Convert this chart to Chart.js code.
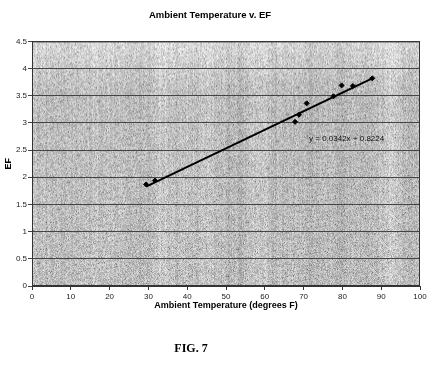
<!DOCTYPE html>
<html>
<head>
<meta charset="utf-8">
<script src="https://cdn.jsdelivr.net/npm/chart.js@4.4.1/dist/chart.umd.min.js"></script>
<style>
  html, body { margin: 0; padding: 0; background: #fff; }
  #wrap { width: 433px; height: 371px; position: relative; }
</style>
</head>
<body>
<div id="wrap"><canvas id="efchart"></canvas></div>
<script>
//Data
const tempF = [29.4, 31.7, 67.8, 68.8, 70.8, 77.7, 79.8, 82.7, 87.7];
const efValues = [1.87, 1.94, 3.02, 3.15, 3.36, 3.49, 3.69, 3.68, 3.82];
//Trend line end points, as drawn
const trendX = [29.4, 87.7];
const trendY = [1.83, 3.82];
const trendLabel = 'y = 0.0342x + 0.8224';
const labelAt = [71.4, 2.70];

const font = 'Liberation Sans, Arial, sans-serif';

//scanned-paper look for the plot area (seeded, so it's the same every run)
let seed = 7;
function rnd() {
    seed = (seed * 1103515245 + 12345) % 2147483648;
    return seed / 2147483648;
}
let texture = null;
function makeTexture(w, h) {
    const c = document.createElement('canvas');
    c.width = w; c.height = h;
    const g = c.getContext('2d');
    const img = g.createImageData(w, h);
    const cols = [];
    let drift = 0;
    for (let x = 0; x < w; x++) {
        drift = drift * 0.9 + (rnd() - 0.5) * 8;
        cols.push(drift + (rnd() - 0.5) * 14);
    }
    for (let y = 0; y < h; y++) {
        const topFade = Math.max(0, 25 * (1 - y / (h * 0.2)));
        for (let x = 0; x < w; x++) {
            let v = 192 + topFade + cols[x] + (rnd() - 0.5) * 60;
            if (rnd() < 0.05) v -= 45;
            v = Math.max(90, Math.min(245, v));
            const i = (y * w + x) * 4;
            img.data[i] = img.data[i + 1] = img.data[i + 2] = v;
            img.data[i + 3] = 255;
        }
    }
    g.putImageData(img, 0, 0);
    return c;
}

const paperPlugin = {
    id: 'paper',
    beforeDraw(chart) {
        const a = chart.chartArea;
        const ctx = chart.ctx;
        if (!texture) texture = makeTexture(Math.round(a.width), Math.round(a.height));
        ctx.save();
        ctx.drawImage(texture, a.left, a.top, a.width, a.height);
        ctx.restore();
    },
    afterDraw(chart) {
        const a = chart.chartArea;
        const ctx = chart.ctx;
        ctx.save();
        ctx.strokeStyle = '#333';
        ctx.lineWidth = 1;
        ctx.strokeRect(a.left + 0.5, a.top + 0.5, a.width - 1, a.height - 1);
        //trend line equation
        ctx.fillStyle = '#111';
        ctx.font = '8px ' + font;
        ctx.textBaseline = 'middle';
        ctx.fillText(trendLabel, chart.scales.x.getPixelForValue(labelAt[0]), chart.scales.y.getPixelForValue(labelAt[1]));
        //figure caption
        ctx.fillStyle = '#000';
        ctx.font = 'bold 12px Liberation Serif, Times New Roman, serif';
        ctx.textAlign = 'center';
        ctx.fillText('FIG. 7', 191, 349);
        ctx.restore();
    }
};

const efChart = new Chart(
    document.getElementById('efchart'),
    {
        type: 'scatter',
        data: {
            datasets: [{
                label: 'EF',
                data: tempF.map((t, i) => ({ x: t, y: efValues[i] })),
                backgroundColor: '#000',
                borderColor: '#000',
                pointStyle: 'rectRot',
                pointRadius: 2.5,
                order: 1
            }, {
                type: 'line',
                label: 'Trend',
                data: trendX.map((t, i) => ({ x: t, y: trendY[i] })),
                borderColor: '#000',
                borderWidth: 2,
                pointRadius: 0,
                fill: false,
                order: 2
            }]
        },
        options: {
            responsive: true,
            maintainAspectRatio: false,
            animation: false,
            layout: { padding: { left: 0, right: 13, top: 0, bottom: 50 } },
            plugins: {
                legend: { display: false },
                tooltip: { enabled: false },
                title: {
                    display: true,
                    text: 'Ambient Temperature v. EF',
                    color: '#000',
                    font: { family: font, size: 9.5, weight: 'bold' },
                    padding: { top: 10, bottom: 20 }
                }
            },
            scales: {
                x: {
                    type: 'linear',
                    min: 0,
                    max: 100,
                    ticks: { stepSize: 10, color: '#222', font: { family: font, size: 8 }, padding: 2, maxRotation: 0 },
                    grid: { drawOnChartArea: false, color: '#333', tickLength: 4 },
                    border: { color: '#333' },
                    title: {
                        display: true,
                        text: 'Ambient Temperature (degrees F)',
                        color: '#000',
                        font: { family: font, size: 9, weight: 'bold' },
                        padding: { top: 0, bottom: 10 }
                    },
                    afterFit(scale) { scale.height = 35; }
                },
                y: {
                    min: 0,
                    max: 4.5,
                    ticks: {
                        stepSize: 0.5,
                        color: '#222',
                        font: { family: font, size: 8 },
                        padding: 1,
                        callback: value => String(value)
                    },
                    grid: { color: '#444', tickLength: 4 },
                    border: { color: '#333' },
                    title: {
                        display: true,
                        text: 'EF',
                        color: '#000',
                        font: { family: font, size: 9, weight: 'bold' },
                        padding: { top: 3, bottom: 0 }
                    },
                    afterFit(scale) { scale.width = 32; }
                }
            }
        },
        plugins: [paperPlugin]
    }
);
</script>
</body>
</html>
